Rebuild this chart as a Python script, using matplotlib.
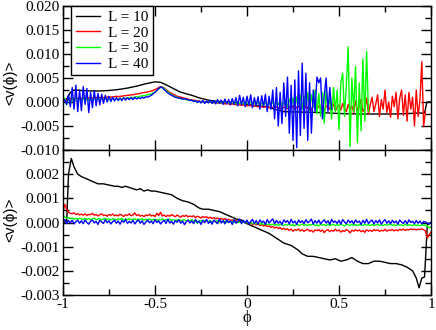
import numpy as np
import matplotlib
matplotlib.use("Agg")
import matplotlib.pyplot as plt
from matplotlib.ticker import MultipleLocator, FormatStrFormatter, FuncFormatter

plt.rcParams["axes.unicode_minus"] = False
plt.rcParams["font.family"] = ["Liberation Serif", "DejaVu Serif"]

# =====================
# DATA (values in units of 1e-3)
# =====================
labels = ["L = 10", "L = 20", "L = 30", "L = 40"]
colors = ["#000000", "#ff0000", "#00ff00", "#0000ff"]

# top panel, L = 10 (smooth)
phi_top_10 = [-1.00, -0.98, -0.96, -0.94, -0.90, -0.85, -0.80, -0.75, -0.70, -0.65,
              -0.60, -0.55, -0.50, -0.47, -0.435, -0.40, -0.364, -0.33, -0.30, -0.255,
              -0.20, -0.15, -0.09, -0.04, 0.016, 0.06, 0.11, 0.15, 0.20, 0.30,
              0.40, 0.50, 0.60, 0.70, 0.80, 0.88, 0.93, 0.965, 0.978, 1.00]
v_top_10 = [0.0, 0.6, 2.0, 2.5, 2.4, 2.3, 2.3, 2.4, 2.6, 2.9,
            3.3, 3.8, 4.2, 4.1, 3.5, 2.8, 2.1, 1.7, 1.4, 0.8,
            0.3, 0.1, -0.1, -0.3, -0.6, -0.8, -1.0, -1.5, -2.0, -2.1,
            -2.2, -2.4, -2.5, -2.5, -2.5, -2.4, -2.3, -2.3, 0.0, 0.0]

# top panel, L = 20 (step 0.01 from -1 to 0.97)
v_top_20 = [0.0, 0.6, 0.3, 0.8, 0.5, 0.9, 0.6, 0.8, 0.7, 0.9,
            0.7, 0.9, 0.8, 0.9, 0.8, 1.0, 0.8, 0.9, 0.9, 1.0,
            0.9, 1.0, 0.9, 1.0, 1.0, 1.1, 1.0, 1.1, 1.1, 1.2,
            1.1, 1.2, 1.2, 1.3, 1.3, 1.4, 1.4, 1.5, 1.5, 1.6,
            1.7, 1.7, 1.8, 1.9, 2.0, 2.0, 2.1, 2.2, 2.3, 2.4,
            2.6, 2.8, 3.0, 3.2, 3.1, 2.9, 2.6, 2.3, 2.0, 1.8,
            1.6, 1.4, 1.2, 1.1, 1.0, 0.9, 0.8, 0.7, 0.6, 0.5,
            0.4, 0.4, 0.3, 0.2, 0.2, 0.1, 0.1, 0.0, 0.0, -0.1,
            0.0, -0.1, -0.2, -0.1, -0.2, -0.3, -0.2, -0.3, -0.4, -0.3,
            -0.4, -0.5, -0.4, -0.5, -0.6, -0.5, -0.6, -0.7, -0.6, -0.7,
            -0.8, -0.7, -0.8, -0.9, -0.8, -0.9, -1.0, -0.9, -1.0, -1.1,
            -1.0, -1.1, -1.2, -1.0, -1.1, -1.3, -1.0, -1.2, -1.4, -1.1,
            -1.2, -0.9, -1.4, -1.0, -1.3, -0.8, -1.5, -1.1, -0.9, -1.4,
            -1.0, -1.6, -0.8, -1.3, -1.0, -1.7, -0.6, -1.2, -1.5, -0.8,
            -1.3, -0.7, -1.8, -1.0, -0.5, -1.6, -1.2, -0.4, -1.9, -1.0,
            -0.6, -1.7, -0.3, -1.4, -2.0, -0.5, -1.5, -0.8, -2.2, 0.2,
            -1.8, -0.9, 0.5, -2.0, -1.2, 0.8, -2.5, -0.5, 1.0, -2.0,
            -0.4, 1.5, -3.0, 0.5, -1.5, 2.5, -2.2, 0.0, -3.2, 1.2,
            -1.0, 2.0, -3.5, 0.8, 2.5, -2.8, 1.5, -4.0, 2.0, -1.5,
            1.0, -5.0, 2.5, -3.0, 0.5, 8.4, -5.1, -2.0]

# top panel, L = 30 (step 0.01 from -1 to 0.66)
v_top_30 = [0.0, 0.8, -0.6, 1.0, -0.4, 0.9, -0.3, 1.2, 0.0, 1.0,
            0.2, 0.9, 0.1, 0.8, 0.3, 0.9, 0.2, 0.8, 0.4, 0.9,
            0.3, 0.8, 0.4, 0.8, 0.5, 0.7, 0.4, 0.8, 0.5, 0.8,
            0.6, 0.8, 0.6, 0.9, 0.7, 0.9, 0.8, 1.0, 0.9, 1.0,
            1.1, 1.1, 1.2, 1.3, 1.3, 1.4, 1.5, 1.6, 1.7, 1.9,
            2.1, 2.4, 2.7, 3.0, 3.1, 2.8, 2.4, 2.1, 1.8, 1.5,
            1.3, 1.1, 1.0, 0.8, 0.7, 0.6, 0.6, 0.5, 0.4, 0.4,
            0.3, 0.2, 0.2, 0.1, 0.1, 0.0, 0.1, -0.1, 0.0, -0.1,
            0.1, -0.2, 0.0, -0.1, 0.1, -0.3, 0.0, -0.2, 0.1, -0.2,
            -0.1, -0.3, 0.0, -0.2, -0.4, 0.0, -0.3, -0.1, -0.4, 0.1,
            -0.3, -0.5, 0.0, -0.4, -0.2, -0.6, 0.1, -0.5, -0.3, -0.7,
            0.0, -0.6, -0.2, -0.8, 0.2, -0.9, -0.3, -0.5, 0.3, -1.0,
            -0.2, 0.4, -1.1, 0.6, -0.8, 0.8, -1.2, 1.0, -0.5, 1.5,
            -1.5, 1.2, -0.8, 2.0, -2.0, 1.5, -1.0, 2.5, -2.5, 1.8,
            -3.0, 2.0, -4.4, 2.5, -1.5, 1.0, -3.5, 3.0, -2.0, 2.5,
            -5.8, 4.0, 6.0, -3.0, 3.5, 11.5, -9.3, 5.0, -2.0, 7.4,
            -8.5, 4.0, -6.0, 9.0, -4.0, 10.5, -2.0]

# top panel, L = 40 (step 0.01 from -1 to 0.46)
v_top_40 = [0.2, 0.5, -0.5, 1.5, -1.0, 3.0, -1.5, 3.5, -2.0, 2.5,
            -1.8, 3.2, -0.5, 2.8, -2.2, 2.0, -1.2, 2.4, -0.8, 1.8,
            -0.6, 1.6, -0.3, 1.4, 0.0, 1.2, 0.1, 1.0, 0.2, 0.9,
            0.3, 0.8, 0.3, 0.9, 0.4, 0.9, 0.5, 0.9, 0.5, 1.0,
            0.6, 0.9, 0.7, 1.0, 0.8, 1.1, 1.0, 1.2, 1.4, 1.7,
            2.0, 2.4, 2.8, 3.1, 3.0, 2.6, 2.2, 1.9, 1.6, 1.4,
            1.2, 1.0, 0.9, 0.8, 0.8, 0.6, 0.7, 0.5, 0.5, 0.3,
            0.4, 0.1, 0.3, -0.1, 0.2, -0.2, 0.3, -0.3, 0.2, -0.2,
            0.4, -0.3, 0.3, -0.4, 0.5, -0.3, 0.4, -0.5, 0.6, -0.4,
            0.5, -0.6, 0.7, -0.5, 0.9, -0.8, 1.4, -0.6, 1.0, -1.0,
            1.2, -0.7, 1.5, -1.2, 0.9, -0.8, 1.1, -1.5, 1.3, -1.0,
            1.6, -2.0, 1.2, -1.5, 2.5, -3.5, 3.0, -5.0, 2.0, -4.5,
            4.0, -3.0, 5.2, -6.5, 3.5, -8.0, 4.6, -9.5, 6.5, -7.0,
            8.1, -5.5, 6.0, -8.0, 4.0, -6.5, 2.5, -2.0, 5.2, 4.0,
            5.0, -3.5, 1.5, 5.0, -2.0, 3.0, -1.5]

# bottom panel, L = 10 (smooth)
phi_bot_10 = [-1.00, -0.98, -0.97, -0.955, -0.94, -0.92, -0.90, -0.87, -0.84, -0.81,
              -0.78, -0.75, -0.72, -0.70, -0.68, -0.66, -0.64, -0.62, -0.60, -0.58,
              -0.56, -0.54, -0.52, -0.50, -0.47, -0.44, -0.41, -0.38, -0.35, -0.32,
              -0.29, -0.26, -0.24, -0.21, -0.18, -0.15, -0.12, -0.09, -0.06, -0.03,
              0.00, 0.03, 0.06, 0.09, 0.12, 0.15, 0.18, 0.20, 0.22, 0.24,
              0.26, 0.28, 0.30, 0.33, 0.36, 0.39, 0.42, 0.45, 0.48, 0.51,
              0.54, 0.57, 0.60, 0.63, 0.66, 0.69, 0.72, 0.75, 0.78, 0.81,
              0.84, 0.87, 0.90, 0.92, 0.935, 0.95, 0.965, 0.98, 1.00]
v_bot_10 = [0.0, 0.05, 2.0, 2.65, 2.3, 2.0, 1.9, 1.8, 1.7, 1.6,
            1.6, 1.55, 1.5, 1.5, 1.45, 1.5, 1.45, 1.4, 1.35, 1.4,
            1.3, 1.35, 1.3, 1.3, 1.25, 1.2, 1.15, 1.0, 0.9, 0.85,
            0.75, 0.6, 0.55, 0.55, 0.5, 0.45, 0.35, 0.25, 0.15, 0.1,
            -0.05, -0.15, -0.25, -0.35, -0.45, -0.6, -0.75, -0.85, -0.9, -0.95,
            -1.05, -1.15, -1.3, -1.4, -1.4, -1.45, -1.5, -1.55, -1.5, -1.6,
            -1.55, -1.45, -1.6, -1.7, -1.7, -1.6, -1.6, -1.65, -1.7, -1.7,
            -1.75, -1.85, -2.0, -2.3, -2.7, -2.3, -2.25, -0.1, 0.0]

# bottom panel, L = 20, 30, 40 (step 0.01 from -1 to 1)
v_bot_20 = [0.45, 0.75, 0.55, 0.42, 0.38, 0.36, 0.4, 0.33, 0.37, 0.31,
            0.35, 0.3, 0.36, 0.29, 0.34, 0.32, 0.38, 0.3, 0.33, 0.27,
            0.32, 0.36, 0.29, 0.31, 0.26, 0.33, 0.3, 0.35, 0.28, 0.31,
            0.27, 0.34, 0.3, 0.25, 0.32, 0.29, 0.36, 0.28, 0.31, 0.4,
            0.29, 0.33, 0.26, 0.3, 0.24, 0.31, 0.28, 0.34, 0.27, 0.3,
            0.25, 0.38, 0.29, 0.42, 0.27, 0.31, 0.24, 0.3, 0.26, 0.33,
            0.28, 0.24, 0.31, 0.26, 0.22, 0.29, 0.25, 0.3, 0.23, 0.27,
            0.24, 0.28, 0.2, 0.26, 0.23, 0.19, 0.25, 0.21, 0.24, 0.18,
            0.22, 0.17, 0.2, 0.15, 0.19, 0.14, 0.17, 0.12, 0.16, 0.11,
            0.13, 0.08, 0.11, 0.05, 0.09, 0.03, 0.06, 0.0, 0.04, -0.02,
            0.01, -0.05, -0.02, -0.08, -0.04, -0.1, -0.07, -0.12, -0.09, -0.15,
            -0.11, -0.17, -0.14, -0.2, -0.16, -0.23, -0.19, -0.25, -0.21, -0.28,
            -0.24, -0.3, -0.26, -0.33, -0.27, -0.36, -0.29, -0.32, -0.27, -0.35,
            -0.3, -0.37, -0.31, -0.28, -0.36, -0.32, -0.4, -0.3, -0.34, -0.29,
            -0.37, -0.31, -0.42, -0.33, -0.3, -0.38, -0.32, -0.36, -0.28, -0.35,
            -0.31, -0.4, -0.33, -0.37, -0.29, -0.34, -0.43, -0.32, -0.36, -0.3,
            -0.35, -0.31, -0.38, -0.33, -0.41, -0.3, -0.36, -0.32, -0.37, -0.29,
            -0.34, -0.3, -0.37, -0.32, -0.35, -0.28, -0.36, -0.31, -0.33, -0.29,
            -0.35, -0.3, -0.34, -0.28, -0.32, -0.27, -0.33, -0.29, -0.31, -0.26,
            -0.3, -0.27, -0.31, -0.28, -0.29, -0.26, -0.3, -0.35, -0.65, -0.5,
            -0.4]
v_bot_30 = [0.3, 0.22, 0.18, 0.2, 0.15, 0.19, 0.14, 0.17, 0.13, 0.18,
            0.15, 0.12, 0.17, 0.13, 0.16, 0.11, 0.15, 0.18, 0.12, 0.14,
            0.16, 0.11, 0.14, 0.17, 0.12, 0.15, 0.1, 0.16, 0.13, 0.11,
            0.15, 0.12, 0.17, 0.1, 0.14, 0.12, 0.16, 0.11, 0.13, 0.15,
            0.1, 0.14, 0.12, 0.16, 0.09, 0.13, 0.11, 0.15, 0.1, 0.12,
            0.14, 0.09, 0.13, 0.11, 0.15, 0.08, 0.12, 0.1, 0.14, 0.09,
            0.12, 0.08, 0.11, 0.13, 0.07, 0.1, 0.12, 0.06, 0.1, 0.08,
            0.11, 0.06, 0.09, -0.05, 0.08, 0.06, 0.1, 0.05, 0.08, 0.04,
            0.07, 0.03, 0.06, 0.04, 0.08, 0.02, 0.05, 0.03, 0.06, 0.01,
            0.04, 0.02, 0.05, 0.0, 0.03, -0.01, 0.02, 0.0, 0.03, -0.02,
            0.01, -0.03, 0.0, -0.04, -0.02, -0.06, -0.03, -0.07, -0.04, -0.08,
            -0.05, -0.09, -0.06, -0.1, -0.07, -0.11, -0.08, -0.12, -0.07, -0.1,
            -0.13, -0.08, -0.11, -0.07, -0.12, -0.09, -0.14, -0.08, -0.11, -0.1,
            -0.07, -0.12, -0.09, -0.13, -0.08, -0.11, -0.06, -0.12, -0.1, -0.14,
            -0.08, -0.11, -0.09, -0.13, -0.07, -0.12, -0.1, -0.08, -0.13, -0.09,
            -0.12, -0.07, -0.11, -0.14, -0.08, -0.1, -0.12, -0.07, -0.11, -0.09,
            -0.13, -0.08, -0.1, -0.12, -0.07, -0.11, -0.09, -0.13, -0.08, -0.12,
            -0.1, -0.07, -0.12, -0.09, -0.13, -0.08, -0.11, -0.1, -0.06, -0.12,
            -0.09, -0.13, -0.08, -0.11, -0.1, -0.14, -0.07, -0.12, -0.09, -0.11,
            -0.13, -0.08, -0.12, -0.1, -0.14, -0.09, -0.12, -0.11, -0.15, -0.22,
            -0.18]
v_bot_40 = [0.05, 0.12, -0.04, 0.08, -0.02, 0.1, -0.06, 0.04, 0.09, -0.03,
            0.07, -0.05, 0.11, 0.0, -0.07, 0.06, 0.1, -0.02, 0.05, -0.08,
            0.09, 0.02, -0.04, 0.12, -0.01, 0.07, -0.06, 0.03, 0.1, -0.03,
            0.06, -0.07, 0.08, 0.01, 0.13, -0.04, 0.05, -0.02, 0.09, -0.06,
            0.04, 0.11, -0.03, 0.07, -0.08, 0.02, 0.1, -0.01, 0.06, -0.05,
            0.12, 0.0, 0.07, -0.06, 0.03, 0.09, -0.04, 0.14, -0.02, 0.05,
            -0.07, 0.08, 0.01, 0.11, -0.03, 0.06, -0.09, 0.04, 0.1, -0.02,
            0.07, -0.05, 0.12, 0.0, 0.05, -0.08, 0.09, -0.01, 0.13, -0.04,
            0.06, -0.07, 0.1, 0.02, -0.05, 0.15, -0.02, 0.08, -0.06, 0.11,
            0.0, 0.07, -0.08, 0.12, -0.03, 0.05, 0.14, -0.05, 0.09, -0.02,
            0.1, -0.06, 0.04, 0.13, -0.04, 0.08, -0.07, 0.11, 0.0, 0.06,
            -0.08, 0.12, -0.02, 0.07, 0.15, -0.05, 0.09, -0.03, 0.05, -0.09,
            0.11, 0.01, 0.08, -0.06, 0.13, -0.02, 0.06, -0.08, 0.1, 0.0,
            0.07, -0.05, 0.12, -0.01, 0.05, 0.14, -0.07, 0.08, -0.03, 0.1,
            -0.06, 0.04, 0.11, -0.02, 0.07, -0.08, 0.13, 0.0, 0.06, -0.04,
            0.09, -0.07, 0.12, 0.02, -0.05, 0.1, -0.01, 0.07, -0.06, 0.11,
            0.0, 0.06, -0.08, 0.09, -0.03, 0.13, -0.04, 0.05, 0.1, -0.06,
            0.08, -0.02, 0.11, -0.07, 0.04, 0.12, -0.03, 0.07, -0.05, 0.09,
            -0.01, 0.06, -0.07, 0.1, 0.02, -0.04, 0.08, -0.06, 0.11, 0.0,
            0.05, -0.05, 0.08, -0.03, 0.06, -0.06, 0.04, 0.02, -0.02, -0.05,
            0.0]


def grid(start, n, step):
    return start + step * np.arange(n)


top_x = [np.array(phi_top_10),
         grid(-1.0, len(v_top_20), 0.01),
         grid(-1.0, len(v_top_30), 0.01),
         grid(-1.0, len(v_top_40), 0.01)]
top_y = [np.array(v) * 1e-3 for v in (v_top_10, v_top_20, v_top_30, v_top_40)]

bot_x = [np.array(phi_bot_10),
         grid(-1.0, len(v_bot_20), 0.01),
         grid(-1.0, len(v_bot_30), 0.01),
         grid(-1.0, len(v_bot_40), 0.01)]
bot_y = [np.array(v) * 1e-3 for v in (v_bot_10, v_bot_20, v_bot_30, v_bot_40)]

# =====================
# PLOT
# =====================
W, H = 436, 330
fig = plt.figure(figsize=(W / 100, H / 100), dpi=100)

x0, x1 = 63, 431
ax1 = fig.add_axes([x0 / W, 1 - 150 / H, (x1 - x0) / W, 144 / H])
ax2 = fig.add_axes([x0 / W, 1 - 295 / H, (x1 - x0) / W, 145 / H])

for i in range(4):
    ax1.plot(top_x[i], top_y[i], color=colors[i], lw=1.0, label=labels[i])
    ax2.plot(bot_x[i], bot_y[i], color=colors[i], lw=1.0)


def fmt_x(v, pos):
    return "%g" % v


for ax in (ax1, ax2):
    ax.set_xlim(-1, 1)
    ax.xaxis.set_major_locator(MultipleLocator(0.5))
    ax.xaxis.set_minor_locator(MultipleLocator(0.25))
    ax.tick_params(which="both", direction="in", top=True, right=True,
                   width=1.0, labelsize=11, pad=2.5)
    ax.tick_params(which="major", length=7)
    ax.tick_params(which="minor", length=4)
    for s in ax.spines.values():
        s.set_linewidth(1.0)

ax1.set_ylim(-0.010, 0.020)
ax1.yaxis.set_major_locator(MultipleLocator(0.005))
ax1.yaxis.set_minor_locator(MultipleLocator(0.0025))
ax1.yaxis.set_major_formatter(FormatStrFormatter("%.3f"))
ax1.tick_params(labelbottom=False)

ax2.set_ylim(-0.003, 0.003)
ax2.set_yticks([-0.003, -0.002, -0.001, 0.0, 0.001, 0.002])
ax2.yaxis.set_minor_locator(MultipleLocator(0.0005))
ax2.yaxis.set_major_formatter(FormatStrFormatter("%.3f"))
ax2.xaxis.set_major_formatter(FuncFormatter(fmt_x))

leg = ax1.legend(loc="upper left", bbox_to_anchor=(0.022, 1.0), borderaxespad=0,
                 fontsize=11, handlelength=1.6, handletextpad=0.5,
                 labelspacing=0.12, borderpad=0.3, fancybox=False,
                 framealpha=1.0)
leg.get_frame().set_edgecolor("black")
leg.get_frame().set_linewidth(1.0)

ylab_font = ["Liberation Sans", "DejaVu Sans"]
fig.text(10 / W, 1 - 83 / H, "<v(ϕ)>", rotation=90, ha="center", va="center",
         fontsize=11, family=ylab_font)
fig.text(10 / W, 1 - 220 / H, "<v(ϕ)>", rotation=90, ha="center", va="center",
         fontsize=11, family=ylab_font)
fig.text(247 / W, 1 - 318 / H, "ϕ", ha="center", va="center", fontsize=12,
         family=["Liberation Serif", "DejaVu Serif"])

plt.savefig("out.png", dpi=100)
